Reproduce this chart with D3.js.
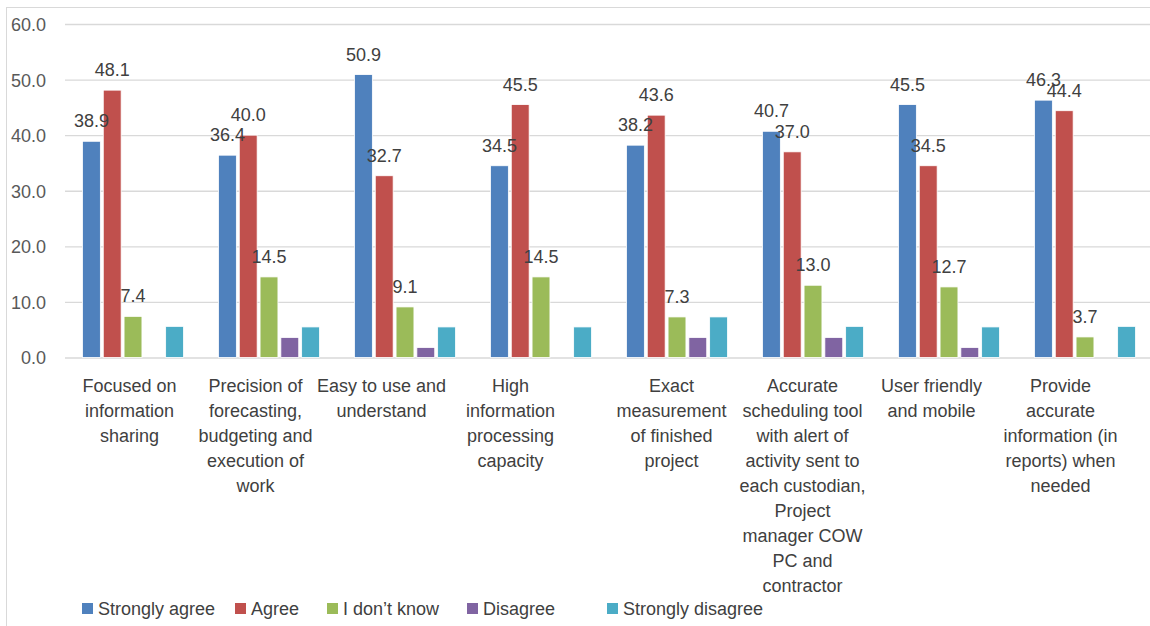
<!DOCTYPE html>
<html>
<head>
<meta charset="utf-8">
<script src="https://cdn.jsdelivr.net/npm/d3@7"></script>
<style>
  html, body { margin: 0; padding: 0; background: #ffffff; }
  svg { display: block; font-family: "Liberation Sans", Arial, sans-serif; }
</style>
</head>
<body>
<svg id="chart" width="1150" height="626"></svg>
<script>
// Survey responses (%) per system feature
const categories = [
  ["Focused on", "information", "sharing"],
  ["Precision of", "forecasting,", "budgeting and", "execution of", "work"],
  ["Easy to use and", "understand"],
  ["High", "information", "processing", "capacity"],
  ["Exact", "measurement", "of finished", "project"],
  ["Accurate", "scheduling tool", "with alert of", "activity sent to", "each custodian,", "Project", "manager COW", "PC and", "contractor"],
  ["User friendly", "and mobile"],
  ["Provide", "accurate", "information (in", "reports) when", "needed"]
];
const seriesNames = ["Strongly agree", "Agree", "I don\u2019t know", "Disagree", "Strongly disagree"];
const stronglyAgree    = [38.9, 36.4, 50.9, 34.5, 38.2, 40.7, 45.5, 46.3];
const agree            = [48.1, 40.0, 32.7, 45.5, 43.6, 37.0, 34.5, 44.4];
const dontKnow         = [7.4, 14.5, 9.1, 14.5, 7.3, 13.0, 12.7, 3.7];
const disagree         = [0, 3.6, 1.8, 0, 3.6, 3.6, 1.8, 0];
const stronglyDisagree = [5.6, 5.5, 5.5, 5.5, 7.3, 5.6, 5.5, 5.6];
const yTicks = [0, 10, 20, 30, 40, 50, 60];
// only the first three series carry value labels
const labelledSeries = [true, true, true, false, false];

const seriesValues = [stronglyAgree, agree, dontKnow, disagree, stronglyDisagree];
const colors = ["#4F81BD", "#C0504D", "#9BBB59", "#8064A2", "#4BACC6"];

// layout
const W = 1150, H = 626;
const plot = { left: 65, right: 1153, top: 24, bottom: 357.5 };
const catLabelNudge = [-3.5, -13.5, -23.5, -30.5, -5.5, -10.5, -17.5, -24.5];
const legendX = [82, 235, 327, 467, 607];

const svg = d3.select("#chart");

// outer frame (top and left edges)
svg.append("line").attr("x1", 6).attr("x2", W).attr("y1", 7.5).attr("y2", 7.5)
  .attr("stroke", "#D9D9D9").attr("stroke-width", 1);
svg.append("line").attr("x1", 6.5).attr("x2", 6.5).attr("y1", 7).attr("y2", H)
  .attr("stroke", "#D9D9D9").attr("stroke-width", 1);

const catIdx = d3.range(categories.length);
const x0 = d3.scaleBand().domain(catIdx).range([plot.left, plot.right])
  .paddingInner(0.257).paddingOuter(0.1285);
const x1 = d3.scaleBand().domain(d3.range(seriesNames.length)).range([0, x0.bandwidth()])
  .paddingInner(0.14).paddingOuter(0);
const y = d3.scaleLinear().domain([0, 60]).range([plot.bottom, plot.top]);

// gridlines + y tick labels
const yAxis = d3.axisLeft(y).tickValues(yTicks).tickFormat(d3.format(".1f"))
  .tickSize(-(W - plot.left)).tickPadding(19);
const gy = svg.append("g").attr("transform", `translate(${plot.left},0)`).call(yAxis);
gy.select(".domain").remove();
gy.selectAll(".tick line").attr("stroke", "#D9D9D9").attr("stroke-width", 1.3);
gy.selectAll(".tick text").attr("fill", "#595959").attr("font-size", 18)
  .attr("font-family", "Liberation Sans, Arial, sans-serif").attr("dy", "0.36em");

// bars
const groups = svg.append("g").selectAll("g").data(catIdx).join("g")
  .attr("transform", i => `translate(${x0(i)},0)`);

groups.selectAll("rect")
  .data(i => seriesValues.map((vals, s) => ({ s, v: vals[i] })))
  .join("rect")
  .filter(d => d.v > 0)
  .attr("x", d => x1(d.s))
  .attr("width", x1.bandwidth())
  .attr("y", d => y(d.v))
  .attr("height", d => y(0) - y(d.v))
  .attr("fill", d => colors[d.s])
  .attr("stroke", "#ffffff").attr("stroke-width", 0.8);

// value labels
groups.selectAll("text.val")
  .data(i => seriesValues.map((vals, s) => ({ s, v: vals[i] })).filter(d => labelledSeries[d.s]))
  .join("text")
  .attr("class", "val")
  .attr("x", d => x1(d.s) + x1.bandwidth() / 2)
  .attr("y", d => y(d.v) - 14)
  .attr("text-anchor", "middle")
  .attr("font-size", 18)
  .attr("fill", "#404040")
  .text(d => d3.format(".1f")(d.v));

// category labels
const catLabels = svg.append("g").selectAll("text").data(catIdx).join("text")
  .attr("text-anchor", "middle")
  .attr("font-size", 18)
  .attr("fill", "#404040")
  .attr("y", 392);
catLabels.each(function (i) {
  const cx = x0(i) + x0.bandwidth() / 2 + catLabelNudge[i];
  d3.select(this).selectAll("tspan").data(categories[i]).join("tspan")
    .attr("x", cx)
    .attr("dy", (d, k) => k === 0 ? 0 : 25)
    .text(d => d);
});

// legend
const legend = svg.append("g").selectAll("g").data(seriesNames).join("g")
  .attr("transform", (d, s) => `translate(${legendX[s]},0)`);
legend.append("rect").attr("x", 0).attr("y", 603).attr("width", 11).attr("height", 11)
  .attr("fill", (d, s) => colors[s]);
legend.append("text").attr("x", 16).attr("y", 615).attr("font-size", 18)
  .attr("fill", "#404040").text(d => d);
</script>
</body>
</html>
